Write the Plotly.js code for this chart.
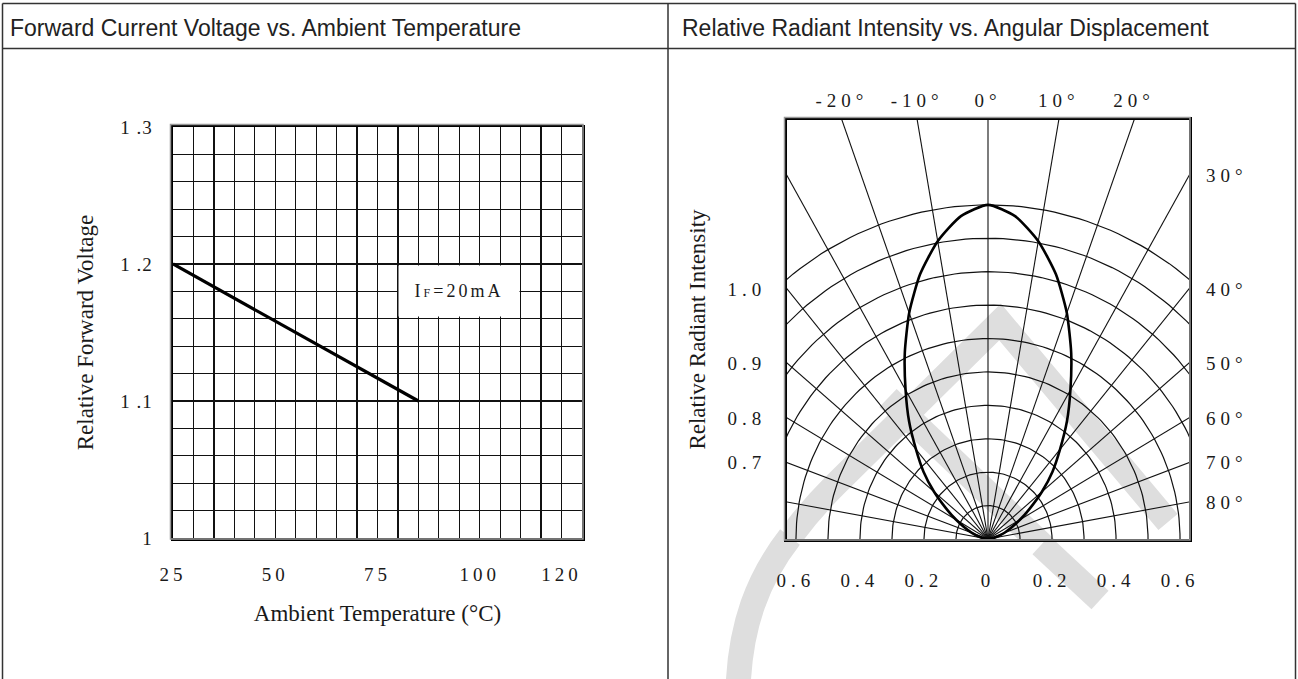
<!DOCTYPE html>
<html><head><meta charset="utf-8">
<script src="https://cdn.plot.ly/plotly-3.0.1.min.js"></script>
<style>
html,body{margin:0;padding:0;background:#fff;}
#chart{width:1298px;height:679px;}
g.xtick text{letter-spacing:4px;}
g.ytick text{letter-spacing:1px;}
g.x2tick text,g.y2tick text,g.x3tick text,g.y3tick text{letter-spacing:5px;}
g.annotation[data-index="2"] text{letter-spacing:3px;}
</style></head><body><div id="chart"></div>
<script>
// ---------- Left chart: Forward Current Voltage vs. Ambient Temperature ----------
const ambientTemp = [25, 85];
const relForwardVoltage = [1.20, 1.10];
const tempTickVals = [25, 50, 75, 100, 120];
const tempTickText = ['25', '50', '75', '100', '120'];
const voltTickVals = [1.0, 1.1, 1.2, 1.3];
const voltTickText = ['1', '1 .1', '1 .2', '1 .3'];
const currentLabel = 'I<span style="font-size:12px">F</span>=20mA';

// ---------- Right chart: Relative Radiant Intensity vs. Angular Displacement ----------
const patternAngles = [-90, -80, -70, -60, -55, -50, -45, -40, -35, -30, -25, -20, -15, -10, -5, 0,
                       5, 10, 15, 20, 25, 30, 35, 40, 45, 50, 55, 60, 70, 80, 90];
const patternIntensity = [0, 0.02, 0.055, 0.115, 0.16, 0.22, 0.285, 0.35, 0.43, 0.515, 0.615, 0.72, 0.82, 0.905, 0.97, 1.0,
                          0.97, 0.905, 0.82, 0.72, 0.615, 0.515, 0.43, 0.35, 0.285, 0.22, 0.16, 0.115, 0.055, 0.02, 0];
const gridAngles = [-80, -70, -60, -50, -40, -30, -20, -10, 0, 10, 20, 30, 40, 50, 60, 70, 80];
const gridRadii = [0.1, 0.2, 0.3, 0.4, 0.5, 0.6, 0.7, 0.8, 0.9, 1.0];
const radialTickVals = [-0.6, -0.4, -0.2, 0, 0.2, 0.4, 0.6];
const radialTickText = ['0.6', '0.4', '0.2', '0', '0.2', '0.4', '0.6'];
const topAngleTicks = [-20, -10, 0, 10, 20];
const topAngleText = ['-20°', '-10°', '0°', '10°', '20°'];
const sideAngleTicks = [30, 40, 50, 60, 70, 80];
const sideAngleText = ['30°', '40°', '50°', '60°', '70°', '80°'];
const leftScaleAngles = [40, 50, 60, 70];
const leftScaleText = ['1.0', '0.9', '0.8', '0.7'];

// ---------- geometry helpers ----------
const W = 1298, H = 679;
const px = x => x / W, py = y => 1 - y / H;
const LB = {x0: 173, x1: 582, y0: 127, y1: 538};   // left plot box (px)
const RB = {x0: 787, x1: 1189, y0: 120, y1: 539};  // right plot box (px)
const xHalf = 0.628, yTop = 1.254;                 // right plot data extents
const d2r = Math.PI / 180;

const patX = patternAngles.map((a, i) => patternIntensity[i] * Math.sin(a * d2r));
const patY = patternAngles.map((a, i) => patternIntensity[i] * Math.cos(a * d2r));

const rayX = [], rayY = [];
gridAngles.forEach(a => { rayX.push(0, 3 * Math.sin(a * d2r), null); rayY.push(0, 3 * Math.cos(a * d2r), null); });
const arcX = [], arcY = [];
gridRadii.forEach(r => {
  for (let p = -90; p <= 90; p += 1.5) { arcX.push(r * Math.sin(p * d2r)); arcY.push(r * Math.cos(p * d2r)); }
  arcX.push(null); arcY.push(null);
});
const topTickPos = topAngleTicks.map(a => yTop * Math.tan(a * d2r));
const sideTickPos = sideAngleTicks.map(a => xHalf / Math.tan(a * d2r));
const leftTickPos = leftScaleAngles.map(a => xHalf / Math.tan(a * d2r));

const serif = 'Liberation Serif, Times New Roman, serif';
const sans = 'Liberation Sans, Arial, sans-serif';
const ink = '#1a1a1a';

const traces = [
  {x: ambientTemp, y: relForwardVoltage, xaxis: 'x', yaxis: 'y', mode: 'lines',
   line: {color: '#000', width: 3.2}, hoverinfo: 'skip', showlegend: false},
  {x: arcX, y: arcY, xaxis: 'x2', yaxis: 'y2', mode: 'lines',
   line: {color: '#111', width: 1.2}, hoverinfo: 'skip', showlegend: false},
  {x: rayX, y: rayY, xaxis: 'x2', yaxis: 'y2', mode: 'lines',
   line: {color: '#111', width: 1.1}, hoverinfo: 'skip', showlegend: false},
  {x: patX, y: patY, xaxis: 'x2', yaxis: 'y2', mode: 'lines',
   line: {color: '#000', width: 2.6, shape: 'spline', smoothing: 0.6}, hoverinfo: 'skip', showlegend: false},
  {x: [null], y: [null], xaxis: 'x3', yaxis: 'y3', mode: 'lines', hoverinfo: 'skip', showlegend: false}
];

// ---------- watermark (light grey bands), described in page pixels ----------
const wmColor = '#dedede', wmWidth = 25;
const sx = (RB.x1 - RB.x0) / (2 * xHalf), sy = (RB.y1 - RB.y0) / yTop, cx = (RB.x0 + RB.x1) / 2;
const pairRe = /(-?\d+(?:\.\d+)?),(-?\d+(?:\.\d+)?)/g;
const toRight = s => s.replace(pairRe, (m, a, b) => ((+a - cx) / sx).toFixed(5) + ',' + ((RB.y1 - +b) / sy).toFixed(5));
const toPaper = s => s.replace(pairRe, (m, a, b) => px(+a).toFixed(5) + ',' + py(+b).toFixed(5));
const wmInside = ['M738,690 C742,600 780,540 835,485 L1000,322 L1168,522', 'M888,398 L1100,600'];
const wmOutside = ['M738,690 C740,625 758,578 790,537', 'M1041,545 L1100,600'];

const shapes = [];
wmInside.forEach(p => shapes.push({type: 'path', xref: 'x2', yref: 'y2', layer: 'below', path: toRight(p),
  line: {color: wmColor, width: wmWidth}}));
wmOutside.forEach(p => shapes.push({type: 'path', xref: 'paper', yref: 'paper', layer: 'below', path: toPaper(p),
  line: {color: wmColor, width: wmWidth}}));
// table borders
const tl = {color: '#333', width: 1.5};
[[2.5, 3.5, 1295.5, 3.5], [2.5, 48.5, 1295.5, 48.5], [2.5, 3.5, 2.5, 679], [668, 3.5, 668, 679], [1295.5, 3.5, 1295.5, 679]]
  .forEach(s => shapes.push({type: 'line', xref: 'paper', yref: 'paper', x0: px(s[0]), y0: py(s[1]), x1: px(s[2]), y1: py(s[3]), line: tl}));
// grey outer rim of the plot frames
shapes.push({type: 'rect', xref: 'paper', yref: 'paper', x0: px(LB.x0 - 2.5), x1: px(LB.x1 + 1), y0: py(LB.y1 + 1), y1: py(LB.y0 - 2.5), line: {color: '#999', width: 1.5}});
shapes.push({type: 'rect', xref: 'paper', yref: 'paper', x0: px(RB.x0 - 2.5), x1: px(RB.x1 + 1), y0: py(RB.y1 + 1), y1: py(RB.y0 - 2.5), line: {color: '#999', width: 1.5}});

const annotations = [
  {xref: 'paper', yref: 'paper', x: px(8), y: py(28), xanchor: 'left', yanchor: 'middle', showarrow: false,
   text: 'Forward Current Voltage vs. Ambient Temperature', font: {family: sans, size: 23, color: '#222'}},
  {xref: 'paper', yref: 'paper', x: px(680), y: py(28), xanchor: 'left', yanchor: 'middle', showarrow: false,
   text: 'Relative Radiant Intensity vs. Angular Displacement', font: {family: sans, size: 23, color: '#222'}},
  {xref: 'x', yref: 'y', x: 95, y: 1.18, xanchor: 'center', yanchor: 'middle', showarrow: false,
   text: currentLabel, font: {family: serif, size: 18, color: ink}, bgcolor: '#fff', width: 118, height: 48}
];

const tickFont = {family: serif, size: 19, color: ink};
const gridStyle = {showgrid: true, gridcolor: '#111', gridwidth: 1.2};
const layout = {
  width: W, height: H, margin: {l: 0, r: 0, t: 0, b: 0},
  paper_bgcolor: '#fff', plot_bgcolor: 'rgba(0,0,0,0)', showlegend: false,
  xaxis: {domain: [px(LB.x0), px(LB.x1)], anchor: 'y', range: [25, 125], tickmode: 'array',
          tickvals: tempTickVals, ticktext: tempTickText, tickfont: tickFont, ticks: '', ticklabelstandoff: 18,
          showgrid: false, minor: Object.assign({tickmode: 'linear', tick0: 25, dtick: 5}, gridStyle),
          showline: true, mirror: true, linecolor: '#000', linewidth: 2.5, zeroline: false, fixedrange: true,
          title: {text: 'Ambient Temperature (°C)', font: {family: serif, size: 23, color: ink}, standoff: 21}},
  yaxis: {domain: [py(LB.y1), py(LB.y0)], anchor: 'x', range: [1.0, 1.3], tickmode: 'array',
          tickvals: voltTickVals, ticktext: voltTickText, tickfont: tickFont, ticks: '', ticklabelstandoff: 14,
          showgrid: false, minor: Object.assign({tickmode: 'linear', tick0: 1.0, dtick: 0.02}, gridStyle),
          showline: true, mirror: true, linecolor: '#000', linewidth: 2.5, zeroline: false, fixedrange: true,
          title: {text: 'Relative Forward Voltage', font: {family: serif, size: 23, color: ink}, standoff: 20}},
  xaxis2: {domain: [px(RB.x0), px(RB.x1)], anchor: 'y2', range: [-xHalf, xHalf], tickmode: 'array',
           tickvals: radialTickVals, ticktext: radialTickText, tickfont: tickFont, ticks: '', ticklabelstandoff: 22,
           showgrid: false, zeroline: false, showline: true, mirror: true, linecolor: '#000', linewidth: 3, fixedrange: true},
  yaxis2: {domain: [py(RB.y1), py(RB.y0)], anchor: 'x2', range: [0, yTop], tickmode: 'array',
           tickvals: leftTickPos, ticktext: leftScaleText, tickfont: tickFont, ticks: '', ticklabelstandoff: 14,
           showgrid: false, zeroline: false, showline: true, mirror: true, linecolor: '#000', linewidth: 3, fixedrange: true,
           title: {text: 'Relative Radiant Intensity', font: {family: serif, size: 23, color: ink}, standoff: 16}},
  xaxis3: {overlaying: 'x2', anchor: 'y3', side: 'top', range: [-xHalf, xHalf], tickmode: 'array',
           tickvals: topTickPos, ticktext: topAngleText, tickfont: tickFont, ticks: '', ticklabelstandoff: 8,
           showgrid: false, zeroline: false, showline: false, fixedrange: true},
  yaxis3: {overlaying: 'y2', anchor: 'x3', side: 'right', range: [0, yTop], tickmode: 'array',
           tickvals: sideTickPos, ticktext: sideAngleText, tickfont: tickFont, ticks: '', ticklabelstandoff: 16,
           showgrid: false, zeroline: false, showline: false, fixedrange: true},
  shapes: shapes,
  annotations: annotations
};

Plotly.newPlot('chart', traces, layout, {staticPlot: true, displayModeBar: false});
</script></body></html>
